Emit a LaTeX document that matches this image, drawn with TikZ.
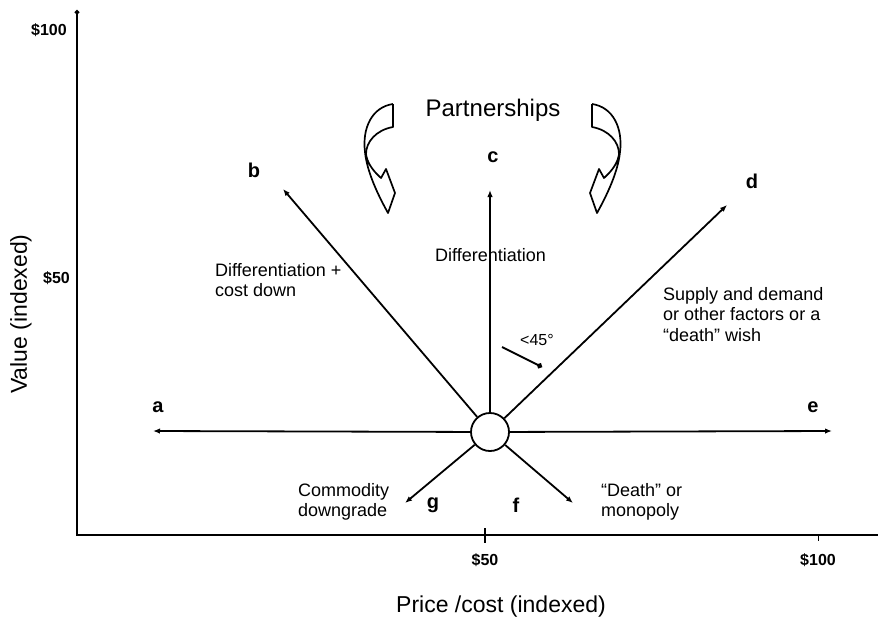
\documentclass[tikz,border=0pt]{standalone}
\usepackage{fontspec}
\setmainfont{Liberation Sans}
\usetikzlibrary{arrows.meta}

\begin{document}
\begin{tikzpicture}[x=1pt,y=-1pt,
  axis/.style={line width=1.8pt},
  spoke/.style={line width=1.8pt,-{Latex[length=7pt,width=5.5pt]}},
  tag/.style={font=\fontsize{20}{20}\selectfont\bfseries, inner sep=0pt},
  note/.style={font=\fontsize{18}{20.5}\selectfont, align=left, inner sep=0pt, anchor=north west},
  money/.style={font=\fontsize{16}{16}\selectfont\bfseries, inner sep=0pt},
  title/.style={font=\fontsize{23}{23}\selectfont, inner sep=0pt},
  curv/.style={line width=1.7pt, line join=round},
  ]
\path[use as bounding box] (0,0) rectangle (883,622);

% axes
\coordinate (ytop) at (77,10);
\coordinate (origin) at (77,535);
\coordinate (xend) at (878,535);
\draw[axis, {Circle[length=4.5pt]}-] (ytop) -- (origin) -- (xend);
\draw[line width=1.3pt] (485,528) -- (485,543);
\draw[line width=1pt] (818,535) -- (818,541);

\node[money, anchor=east] (y100) at (67,30) {\$100};
\node[money, anchor=east] (y50) at (70,278) {\$50};
\node[money] (x50) at (485,560) {\$50};
\node[money] (x100) at (818,560) {\$100};
\node[title] (xtitle) at (501,607) {Price /cost (indexed)};
\node[title, rotate=90] (ytitle) at (21,314) {Value (indexed)};

% hub and spokes
\node[circle, draw, line width=1.8pt, minimum size=38pt, inner sep=0pt] (hub) at (490,432) {};
\coordinate (ta) at (153,431);
\coordinate (te) at (832,431);
\coordinate (tb) at (283,189);
\coordinate (tc) at (490,190);
\coordinate (td) at (727,205);
\coordinate (tg) at (405,503);
\coordinate (tf) at (573,503);
\foreach \t in {ta,te,tb,tc,td,tg,tf} \draw[spoke] (hub) -- (\t);

% angle marker
\node[font=\fontsize{16}{16}\selectfont, inner sep=0pt] (ang) at (537,340) {<45°};
\coordinate (angs) at (502,347);
\coordinate (ange) at (542,367);
\draw[line width=1.8pt, -{Circle[length=5.5pt]}] (angs) -- (ange);

% letters
\node[tag] (la) at (158,407) {a};
\node[tag] (lb) at (254,170) {b};
\node[tag] (lc) at (493,157) {c};
\node[tag] (ld) at (752,181) {d};
\node[tag] (le) at (813,407) {e};
\node[tag] (lg) at (433,505) {g};
\node[tag] (lf) at (516,505) {f};

% descriptions
\node[note] (nb) at (215,263) {Differentiation +\\cost down};
\node[note] (nc) at (435,248) {Differentiation};
\node[note] (nd) at (663,287) {Supply and demand\\or other factors or a\\“death” wish};
\node[note] (ng) at (298,483) {Commodity\\downgrade};
\node[note] (nf) at (601,483) {“Death” or\\monopoly};

\node[font=\fontsize{24}{24}\selectfont, inner sep=0pt] (part) at (493,110) {Partnerships};

% curved block arrows beside the title
\foreach \m in {0,1}{
\begin{scope}[xshift=\m*985pt, xscale=1-2*\m]
  \draw[curv] (393,104) -- (393,127)
     .. controls (376,130) and (366,142) .. (366,154);
  \draw[curv] (393,104) .. controls (372,107) and (362,128) .. (365,152)
     .. controls (367,172) and (378,195) .. (388,213)
     -- (395,193) -- (386,169) -- (381,178)
     .. controls (372,170) and (367,162) .. (366,154);
\end{scope}}
\end{tikzpicture}
\end{document}
